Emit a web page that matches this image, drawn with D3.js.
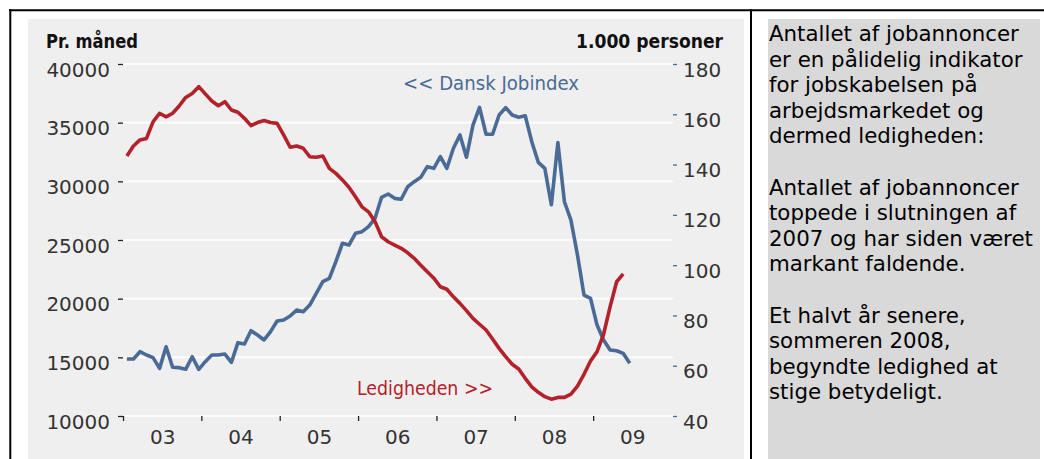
<!DOCTYPE html>
<html>
<head>
<meta charset="utf-8">
<script src="https://cdn.jsdelivr.net/npm/d3@7"></script>
<style>
  body { margin: 0; background: #ffffff; }
  svg { display: block; }
</style>
</head>
<body>
<svg id="chart" width="1044" height="459"></svg>
<script>
// ---------------- DATA ----------------
const startYear = 2003;          // first month = January 2003, monthly data
const yearLabels = ["03", "04", "05", "06", "07", "08", "09"];
const leftTicks = [10000, 15000, 20000, 25000, 30000, 35000, 40000];
const rightTicks = [40, 60, 80, 100, 120, 140, 160, 180];

// Dansk Jobindex, job ads per month (left axis), Jan 2003 - Jun 2009
const jobindex = [
  14860, 14860, 15480, 15200, 14970, 14060, 15900, 14150, 14120, 13980, 15050, 13980,
  14630, 15200, 15200, 15280, 14570, 16250, 16140, 17270, 16900, 16480, 17190, 18100,
  18180, 18520, 19030, 18890, 19460, 20460, 21450, 21730, 23150, 24720, 24570, 25570,
  25710, 26140, 26850, 28640, 28920, 28550, 28470, 29540, 29970, 30340, 31250, 31110,
  32100, 31110, 32820, 33950, 32050, 34800, 36300, 34010, 34010, 35650, 36280, 35650,
  35460, 35590, 33380, 31620, 31110, 28000, 33300, 28260, 26700, 23720, 20310, 20030,
  17750, 16480, 15620, 15560, 15340, 14490
];

// Ledigheden, 1.000 personer (right axis), Jan 2003 - May 2009
const ledighed = [
  143.4, 147.4, 149.8, 150.4, 157.0, 160.4, 159.0, 160.4, 163.3, 166.7, 168.3, 171.0,
  168.1, 165.3, 163.4, 165.0, 161.7, 160.8, 158.4, 155.5, 156.7, 157.5, 156.7, 156.4,
  151.8, 146.9, 147.4, 146.5, 143.1, 142.9, 143.4, 138.5, 136.5, 133.9, 131.0, 127.2,
  123.2, 121.2, 117.3, 111.3, 109.3, 108.0, 106.7, 104.9, 102.7, 100.0, 97.4, 94.8,
  91.4, 90.4, 87.4, 84.8, 81.9, 78.8, 76.5, 74.2, 70.6, 66.9, 63.6, 60.6,
  58.7, 55.0, 51.6, 49.4, 47.7, 46.7, 47.4, 47.4, 48.7, 51.9, 56.6, 61.9,
  65.6, 72.5, 83.5, 93.4, 96.5
];

const panelLines = [
  "Antallet af jobannoncer",
  "er en pålidelig indikator",
  "for jobskabelsen på",
  "arbejdsmarkedet og",
  "dermed ledigheden:",
  "",
  "Antallet af jobannoncer",
  "toppede i slutningen af",
  "2007 og har siden været",
  "markant faldende.",
  "",
  "Et halvt år senere,",
  "sommeren 2008,",
  "begyndte ledighed at",
  "stige betydeligt."
];

// ---------------- STYLE ----------------
const RED = "#b3212a";
const BLUE = "#4a6b96";
const AXIS_TEXT = "#333333";
const FONT = "'DejaVu Sans', Verdana, sans-serif";

const svg = d3.select("#chart");

// outer frame backgrounds
svg.append("rect").attr("x", 28).attr("y", 19).attr("width", 716).attr("height", 440)
  .attr("fill", "#efefef");
svg.append("rect").attr("x", 768).attr("y", 19).attr("width", 272).attr("height", 440)
  .attr("fill", "#d9d9d9");

// frame lines
svg.append("line").attr("x1", 9).attr("x2", 1044).attr("y1", 10.3).attr("y2", 10.3)
  .attr("stroke", "#000").attr("stroke-width", 2);
svg.append("line").attr("x1", 10.3).attr("x2", 10.3).attr("y1", 9.3).attr("y2", 459)
  .attr("stroke", "#000").attr("stroke-width", 2);
svg.append("line").attr("x1", 751).attr("x2", 751).attr("y1", 9.3).attr("y2", 459)
  .attr("stroke", "#000").attr("stroke-width", 2);

// ---------------- SCALES ----------------
const x = d3.scaleLinear().domain([startYear, startYear + 7]).range([123, 671.5]);
const yL = d3.scaleLinear().domain([10000, 40000]).range([416, 64]);
const yR = d3.scaleLinear().domain([40, 180]).range([416, 64]);
const monthX = i => x(startYear + (i + 0.6) / 12);

// gridlines
svg.append("g").selectAll("line").data(leftTicks).join("line")
  .attr("x1", 123).attr("x2", 673)
  .attr("y1", d => yL(d)).attr("y2", d => yL(d))
  .attr("stroke", "#ffffff").attr("stroke-width", 1.6);

// left axis
const gL = svg.append("g").attr("transform", "translate(123,0)")
  .call(d3.axisLeft(yL).tickValues(leftTicks).tickSize(5).tickPadding(8).tickFormat(d3.format("d")));
gL.select(".domain").remove();
gL.selectAll(".tick line").attr("stroke", "#222").attr("stroke-width", 1.3);
gL.selectAll(".tick text").attr("dy", "0.6em").attr("fill", AXIS_TEXT)
  .style("font-family", FONT).style("font-size", "20px");

// right axis
const gR = svg.append("g").attr("transform", "translate(673,0)")
  .call(d3.axisRight(yR).tickValues(rightTicks).tickSize(4).tickPadding(6).tickFormat(d3.format("d")));
gR.select(".domain").remove();
gR.selectAll(".tick line").attr("stroke", BLUE).attr("stroke-width", 1.3);
gR.selectAll(".tick text").attr("dy", "0.6em").attr("fill", AXIS_TEXT)
  .style("font-family", FONT).style("font-size", "20px");

// bottom axis: year boundary ticks
const gB = svg.append("g").attr("transform", "translate(0,416)")
  .call(d3.axisBottom(x).tickValues(d3.range(startYear, startYear + 7)).tickSize(5).tickFormat(""));
gB.select(".domain").remove();
gB.selectAll(".tick line").attr("stroke", "#222").attr("stroke-width", 1.3);

// bottom axis: year labels centred in each year
const gB2 = svg.append("g").attr("transform", "translate(0,416)")
  .call(d3.axisBottom(x).tickValues(yearLabels.map((d, i) => startYear + i + 0.5))
    .tickSize(0).tickFormat((d, i) => yearLabels[i]));
gB2.select(".domain").remove();
gB2.selectAll(".tick text").attr("y", 28).attr("dy", 0).attr("fill", AXIS_TEXT)
  .style("font-family", FONT).style("font-size", "20px");

// ---------------- LINES ----------------
const lineJob = d3.line().x((d, i) => monthX(i)).y(d => yL(d));
const lineLed = d3.line().x((d, i) => monthX(i)).y(d => yR(d));

svg.append("path").datum(jobindex).attr("d", lineJob)
  .attr("fill", "none").attr("stroke", BLUE).attr("stroke-width", 3.6)
  .attr("stroke-linejoin", "round");
svg.append("path").datum(ledighed).attr("d", lineLed)
  .attr("fill", "none").attr("stroke", RED).attr("stroke-width", 3.6)
  .attr("stroke-linejoin", "round");

// ---------------- TEXT ----------------
svg.append("text").attr("x", 46).attr("y", 48).text("Pr. måned")
  .attr("fill", "#111").attr("font-weight", "bold")
  .attr("textLength", 92).attr("lengthAdjust", "spacingAndGlyphs")
  .style("font-family", FONT).style("font-size", "19px");
svg.append("text").attr("x", 576).attr("y", 48).text("1.000 personer")
  .attr("fill", "#111").attr("font-weight", "bold")
  .attr("textLength", 147).attr("lengthAdjust", "spacingAndGlyphs")
  .style("font-family", FONT).style("font-size", "19px");

svg.append("text").attr("x", 403).attr("y", 90).text("<< Dansk Jobindex")
  .attr("fill", BLUE).attr("textLength", 176).attr("lengthAdjust", "spacingAndGlyphs")
  .style("font-family", FONT).style("font-size", "20px");
svg.append("text").attr("x", 357).attr("y", 395).text("Ledigheden >>")
  .attr("fill", RED).attr("textLength", 136).attr("lengthAdjust", "spacingAndGlyphs")
  .style("font-family", FONT).style("font-size", "20px");

// side panel
svg.append("g").selectAll("text").data(panelLines).join("text")
  .attr("x", 769).attr("y", (d, i) => 41 + i * 25.6)
  .text(d => d)
  .attr("fill", "#000")
  .style("font-family", FONT).style("font-size", "21.33px");
</script>
</body>
</html>
